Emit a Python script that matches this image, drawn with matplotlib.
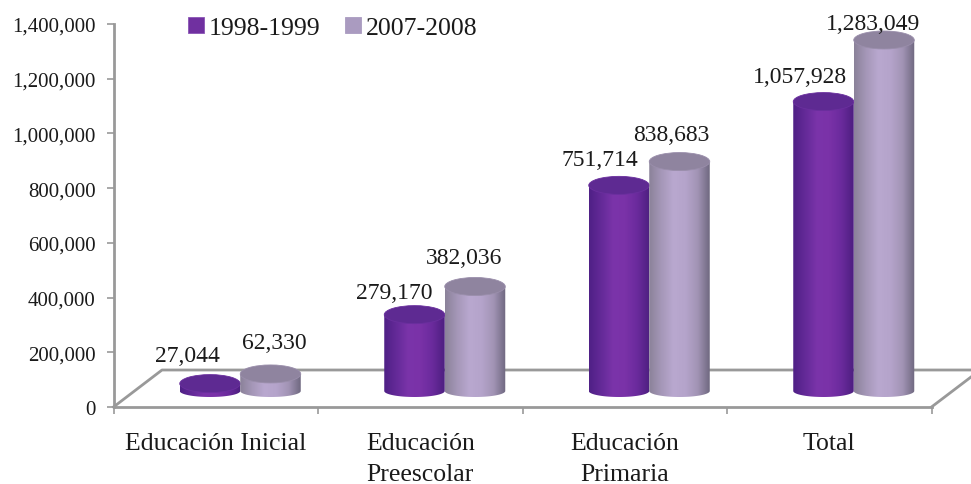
import numpy as np
import matplotlib
matplotlib.use("Agg")
import matplotlib.pyplot as plt
from matplotlib.colors import LinearSegmentedColormap
from matplotlib.patches import Patch, PathPatch, Ellipse
from matplotlib.path import Path
from matplotlib.lines import Line2D

categories = ["Educación Inicial", "Educación\nPreescolar", "Educación\nPrimaria", "Total"]
series_names = ["1998-1999", "2007-2008"]
values_1998 = [27044, 279170, 751714, 1057928]
values_2007 = [62330, 382036, 838683, 1283049]
y_ticks = [0, 200000, 400000, 600000, 800000, 1000000, 1200000, 1400000]

plt.rcParams["font.family"] = ["Liberation Serif", "DejaVu Serif"]
W, H = 971, 485
TXT = "#1a1a1a"
GRAY = "#999999"

fig = plt.figure(figsize=(W / 100, H / 100), dpi=100)
ax = fig.add_axes([113.5 / W, (H - 408) / H, 818 / W, 383 / H])
ax.set_xlim(-0.5, 3.5)
ax.set_ylim(0, 1400000)
for s in ("top", "right"):
    ax.spines[s].set_visible(False)
for s in ("left", "bottom"):
    ax.spines[s].set_color(GRAY)
    ax.spines[s].set_linewidth(2)

ax.set_yticks(y_ticks)
ax.set_yticklabels([f"{v:,}" for v in y_ticks], fontsize=15, color=TXT)
ax.set_xticks([-0.5, 0.5, 1.5, 2.5, 3.5])
ax.set_xticklabels([])
ax.tick_params(axis="both", color=GRAY, width=1.2, length=5)
ax.tick_params(axis="y", pad=8)
for i, c in enumerate(categories):
    ax.annotate(c, (i, 0), xycoords=("data", "axes fraction"), xytext=(0, -25),
                textcoords="offset pixels", ha="center", va="top", fontsize=18.5,
                color=TXT, linespacing=1.55, annotation_clip=False)

# floor of the 3D box, expressed in axes fractions
fx = lambda px: (px - 113.5) / 818
fy = lambda py: (408 - py) / 383
floor = dict(transform=ax.transAxes, color=GRAY, lw=2, clip_on=False, zorder=1)
ax.add_line(Line2D([0, fx(162), fx(971)], [0, fy(371), fy(371)], **floor))
ax.add_line(Line2D([1, fx(971)], [0, fy(378)], **floor))

# cylinder geometry (data units)
BASE = 16 / 383 * 1400000     # depth lift of the cylinder base
TOP_H = 9 / 383 * 1400000
BOT_H = 6 / 383 * 1400000
WIDTH = 60.5 / 204.5
SHIFT = 24.5 / 204.5

cm_purple = LinearSegmentedColormap.from_list(
    "p", ["#4f2086", "#642a98", "#7b34aa", "#7a32a8", "#6a2a9c", "#4d1f80"])
cm_lav = LinearSegmentedColormap.from_list(
    "l", ["#8b8299", "#a597b8", "#b9a8cf", "#b5a4cb", "#a294b5", "#6f6880"])
grad = np.linspace(0, 1, 128)[None, :]


def cylinder(xc, value, cmap, top_color, top_edge, z):
    y0, y1 = BASE, BASE + value
    rx = WIDTH / 2
    t = np.linspace(np.pi, 2 * np.pi, 50)
    bx = xc + rx * np.cos(t)
    by = y0 + BOT_H * np.sin(t)
    verts = np.vstack([[xc - rx, y1], np.column_stack([bx, by]), [xc + rx, y1], [xc - rx, y1]])
    body = PathPatch(Path(verts), fc="none", ec="none", transform=ax.transData)
    ax.add_patch(body)
    im = ax.imshow(grad, cmap=cmap, aspect="auto", zorder=z, interpolation="bilinear",
                   extent=(xc - rx, xc + rx, y0 - BOT_H, y1), clip_on=True)
    im.set_clip_path(body)
    ax.add_patch(Ellipse((xc, y1), WIDTH, 2 * TOP_H, fc=top_color, ec=top_edge, lw=0.6,
                         zorder=z + 0.1, clip_on=False))


x = np.arange(len(categories))
for i in x:
    cylinder(i + SHIFT - WIDTH / 2, values_1998[i], cm_purple, "#5e2a92", "#6a2f9e", 3 + i * 0.01)
    cylinder(i + SHIFT + WIDTH / 2, values_2007[i], cm_lav, "#8f849f", "#9a8eab", 4 + i * 0.01)
ax.set_xlim(-0.5, 3.5)
ax.set_ylim(0, 1400000)

# value labels: offsets in pixels from the top of each cylinder
off_1998 = [(-23, 28), (-20, 22), (-19, 26), (-24, 25)]
off_2007 = [(4, 31), (-11, 29), (-8, 27), (-11, 16)]
for i in x:
    for v, xc, (dx, dy) in ((values_1998[i], i + SHIFT - WIDTH / 2, off_1998[i]),
                            (values_2007[i], i + SHIFT + WIDTH / 2, off_2007[i])):
        ax.annotate(f"{v:,}", (xc, BASE + v), xytext=(dx, dy), textcoords="offset pixels",
                    ha="center", va="center", fontsize=17, color=TXT, zorder=10,
                    annotation_clip=False)

handles = [Patch(fc="#7030a0", ec="#8a55b5", lw=0.6), Patch(fc="#aa9bc0", ec="#aa9bc0", lw=0.6)]
ax.legend(handles, series_names, ncols=2, frameon=False, fontsize=18.5, labelcolor=TXT,
          loc="center left", bbox_to_anchor=(188 / W, (H - 29) / H),
          bbox_transform=fig.transFigure, handlelength=0.62, handleheight=0.62,
          handletextpad=0.2, columnspacing=0.95, borderpad=0, borderaxespad=0)

fig.savefig("out.png", dpi=100)
